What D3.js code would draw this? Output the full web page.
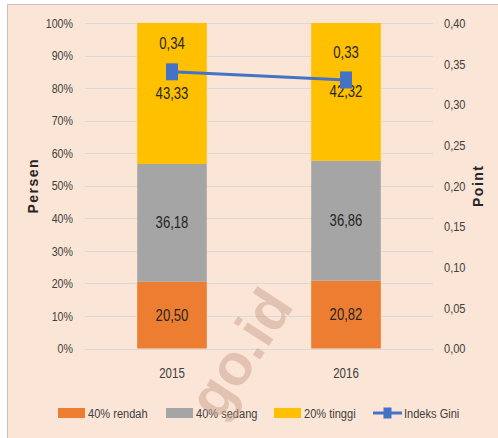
<!DOCTYPE html>
<html>
<head>
<meta charset="utf-8">
<script src="https://cdn.jsdelivr.net/npm/d3@7"></script>
<style>
  body { margin: 0; background: #fff; }
  svg { display: block; }
</style>
</head>
<body>
<svg id="chart" width="498" height="438"></svg>
<script>
// data
var years = ["2015", "2016"];
var rendah = [20.50, 20.82];
var sedang = [36.18, 36.86];
var tinggi = [43.33, 42.32];
var gini = [0.34, 0.33];
var seriesNames = ["40% rendah", "40% sedang", "20% tinggi", "Indeks Gini"];
var pctTicks = [0, 10, 20, 30, 40, 50, 60, 70, 80, 90, 100];
var giniTicks = [0, 0.05, 0.10, 0.15, 0.20, 0.25, 0.30, 0.35, 0.40];

var colors = ["#ED7D31", "#A5A5A5", "#FFC000", "#4472C4"];
var font = "'Liberation Sans', Arial, sans-serif";
var narrow = 0.82; // squeeze to look like a condensed face

var svg = d3.select("#chart");
var W = 498, H = 438;
var x0 = 85, x1 = 433, yTop = 23, yBot = 348.5;

var loc = d3.formatLocale({ decimal: ",", thousands: ".", grouping: [3], currency: ["", ""] });
var f2 = loc.format(".2f");

// move x/y into a transform and squeeze horizontally
function condense(sel) {
  sel.each(function() {
    var t = d3.select(this);
    var tx = +t.attr("x") || 0, ty = +t.attr("y") || 0;
    t.attr("x", 0).attr("y", 0)
     .attr("transform", "translate(" + tx + "," + ty + ") scale(" + narrow + ",1)");
  });
}

// panel
svg.append("rect")
    .attr("x", 7.5).attr("y", 4.5)
    .attr("width", W).attr("height", H)
    .attr("fill", "#FBE5D6")
    .attr("stroke", "#D0C0B8")
    .attr("stroke-width", 1);

var x = d3.scaleBand()
    .domain(years)
    .range([x0, x1])
    .paddingInner(0.6)
    .paddingOuter(0.3);

var y = d3.scaleLinear().domain([0, 100]).range([yBot, yTop]);
var y2 = d3.scaleLinear().domain([0, 0.40]).range([yBot, yTop]);

// gridlines
svg.append("g")
  .selectAll("line")
  .data(pctTicks)
  .enter().append("line")
    .attr("x1", x0).attr("x2", x1)
    .attr("y1", function(d) { return Math.round(y(d)) + 0.5; })
    .attr("y2", function(d) { return Math.round(y(d)) + 0.5; })
    .attr("stroke", "#D9D9D9")
    .attr("stroke-width", 1);

// left axis
var gl = svg.append("g")
    .attr("transform", "translate(" + x0 + ",0)")
    .call(d3.axisLeft(y).tickValues(pctTicks).tickFormat(function(d) { return d + "%"; }).tickSize(0).tickPadding(12));
gl.select(".domain").remove();
gl.selectAll("text").style("font-family", font).style("font-size", "13px").attr("fill", "#404040").call(condense);

// right axis
var gr = svg.append("g")
    .attr("transform", "translate(" + x1 + ",0)")
    .call(d3.axisRight(y2).tickValues(giniTicks).tickFormat(f2).tickSize(0).tickPadding(11));
gr.select(".domain").remove();
gr.selectAll("text").style("font-family", font).style("font-size", "13.5px").attr("fill", "#404040").call(condense);

// stacked bars
var table = years.map(function(yr, i) {
  return { year: yr, rendah: rendah[i], sedang: sedang[i], tinggi: tinggi[i] };
});
var stack = d3.stack().keys(["rendah", "sedang", "tinggi"]);
var layers = stack(table);

var lay = svg.selectAll(".layer")
  .data(layers)
  .enter().append("g")
    .attr("class", "layer")
    .attr("fill", function(d, i) { return colors[i]; });

lay.selectAll("rect")
  .data(function(d) { return d; })
  .enter().append("rect")
    .attr("x", function(d) { return x(d.data.year); })
    .attr("width", x.bandwidth())
    .attr("y", function(d) { return y(d[1]); })
    .attr("height", function(d) { return y(d[0]) - y(d[1]); });

lay.selectAll("text")
  .data(function(d) { return d.map(function(p) { return { p: p, key: d.key }; }); })
  .enter().append("text")
    .attr("x", function(d) { return x(d.p.data.year) + x.bandwidth() / 2; })
    .attr("y", function(d) { return y((d.p[0] + d.p[1]) / 2); })
    .attr("dy", "0.35em")
    .attr("text-anchor", "middle")
    .style("font-family", font)
    .style("font-size", "16px")
    .attr("fill", "#262626")
    .text(function(d) { return f2(d.p.data[d.key]); })
    .call(condense);

// gini line
var line = d3.line()
    .x(function(d, i) { return x(years[i]) + x.bandwidth() / 2; })
    .y(function(d) { return y2(d); });

svg.append("path")
    .datum(gini)
    .attr("d", line)
    .attr("fill", "none")
    .attr("stroke", colors[3])
    .attr("stroke-width", 3);

svg.selectAll(".mk")
  .data(gini)
  .enter().append("rect")
    .attr("class", "mk")
    .attr("x", function(d, i) { return x(years[i]) + x.bandwidth() / 2 - 6; })
    .attr("y", function(d) { return y2(d) - 8.5; })
    .attr("width", 12).attr("height", 17)
    .attr("fill", colors[3]);

svg.selectAll(".gl")
  .data(gini)
  .enter().append("text")
    .attr("class", "gl")
    .attr("x", function(d, i) { return x(years[i]) + x.bandwidth() / 2; })
    .attr("y", function(d) { return y2(d) - 28; })
    .attr("dy", "0.35em")
    .attr("text-anchor", "middle")
    .style("font-family", font)
    .style("font-size", "16px")
    .attr("fill", "#262626")
    .text(function(d) { return f2(d); })
    .call(condense);

// category labels
svg.selectAll(".cat")
  .data(years)
  .enter().append("text")
    .attr("class", "cat")
    .attr("x", function(d) { return x(d) + x.bandwidth() / 2; })
    .attr("y", 373)
    .attr("dy", "0.35em")
    .attr("text-anchor", "middle")
    .style("font-family", font)
    .style("font-size", "14px")
    .attr("fill", "#404040")
    .text(function(d) { return d; })
    .call(condense);

// axis titles
svg.append("text")
    .attr("transform", "translate(38," + ((yTop + yBot) / 2) + ") rotate(-90)")
    .attr("text-anchor", "middle")
    .style("font-family", font)
    .style("font-size", "14px")
    .style("font-weight", "bold")
    .style("letter-spacing", "1.5px")
    .attr("fill", "#262626")
    .text("Persen");

svg.append("text")
    .attr("transform", "translate(483," + ((yTop + yBot) / 2) + ") rotate(-90)")
    .attr("text-anchor", "middle")
    .style("font-family", font)
    .style("font-size", "14px")
    .style("font-weight", "bold")
    .style("letter-spacing", "1.5px")
    .attr("fill", "#262626")
    .text("Point");

// legend
var legX = [58, 166, 274, 373];
var leg = svg.selectAll(".leg")
  .data(seriesNames)
  .enter().append("g")
    .attr("class", "leg")
    .attr("transform", function(d, i) { return "translate(" + legX[i] + ",413)"; });

leg.filter(function(d, i) { return i < 3; })
  .append("rect")
    .attr("x", 0).attr("y", -5)
    .attr("width", 27).attr("height", 10)
    .attr("fill", function(d, i) { return colors[i]; });

var gleg = leg.filter(function(d, i) { return i === 3; });
gleg.append("line")
    .attr("x1", 0).attr("x2", 29)
    .attr("y1", 0).attr("y2", 0)
    .attr("stroke", colors[3]).attr("stroke-width", 3);
gleg.append("rect")
    .attr("x", 10.5).attr("y", -5.5)
    .attr("width", 8).attr("height", 11)
    .attr("fill", colors[3]);

leg.append("text")
    .attr("x", function(d, i) { return i < 3 ? 30 : 31; })
    .attr("y", 0)
    .attr("dy", "0.35em")
    .style("font-family", font)
    .style("font-size", "13.5px")
    .attr("fill", "#404040")
    .text(function(d) { return d; })
    .call(condense);

// watermark
svg.append("text")
    .attr("transform", "translate(257,364) rotate(-57)")
    .attr("text-anchor", "middle")
    .style("font-family", font)
    .style("font-size", "58px")
    .style("font-weight", "bold")
    .attr("fill", "#C9A08C")
    .attr("fill-opacity", 0.5)
    .text("go.id");
</script>
</body>
</html>
